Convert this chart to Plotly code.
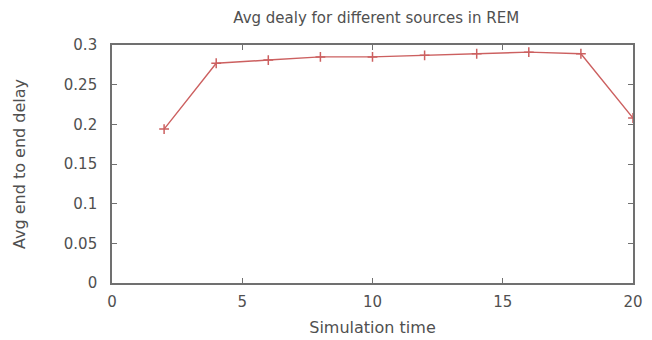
import plotly.graph_objects as go

# Average end-to-end delay per simulation time
sim_time = [2, 4, 6, 8, 10, 12, 14, 16, 18, 20]
avg_delay = [0.194, 0.277, 0.281, 0.285, 0.285, 0.287, 0.289, 0.291, 0.289, 0.208]

x_ticks = [0, 5, 10, 15, 20]
y_ticks = [0, 0.05, 0.1, 0.15, 0.2, 0.25, 0.3]
y_tick_text = ["0", "0.05", "0.1", "0.15", "0.2", "0.25", "0.3"]

font_family = "DejaVu Sans"
axis_color = "#707070"
text_color = "#505050"
line_color = "#cc6060"

fig = go.Figure(
    go.Scatter(
        x=sim_time,
        y=avg_delay,
        mode="lines+markers",
        line=dict(color=line_color, width=1.4),
        marker=dict(symbol="cross-thin-open", size=7,
                    line=dict(color="#b84a4a", width=1.5)),
        showlegend=False,
    )
)

axis_common = dict(
    showgrid=False,
    zeroline=False,
    showline=True,
    linecolor=axis_color,
    linewidth=1.6,
    mirror="ticks",
    ticks="inside",
    ticklen=5,
    tickwidth=1,
    tickcolor=axis_color,
    automargin=False,
    tickfont=dict(family=font_family, size=15, color=text_color),
)

fig.update_layout(
    width=652,
    height=340,
    margin=dict(l=112, r=19, t=45, b=57),
    paper_bgcolor="white",
    plot_bgcolor="white",
    title=dict(
        text="Avg dealy for different sources in REM",
        x=0.577, xanchor="center",
        y=1 - 18 / 340, yanchor="middle",
        font=dict(family=font_family, size=15, color=text_color),
    ),
    xaxis=dict(
        axis_common,
        range=[0, 20],
        tickvals=x_ticks,
        ticklabelstandoff=4,
        title=dict(text="Simulation time", standoff=12,
                   font=dict(family=font_family, size=16, color=text_color)),
    ),
    yaxis=dict(
        axis_common,
        range=[0, 0.3],
        tickvals=y_ticks,
        ticktext=y_tick_text,
        ticklabelstandoff=10,
        title=dict(text="Avg end to end delay", standoff=34,
                   font=dict(family=font_family, size=16, color=text_color)),
    ),
)

fig.write_html("out.html")
